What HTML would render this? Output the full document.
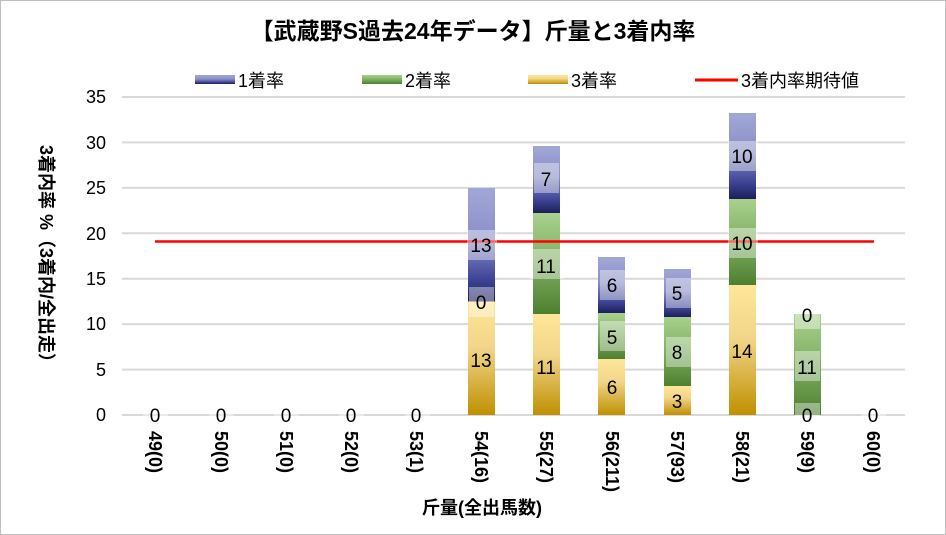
<!DOCTYPE html><html><head><meta charset="utf-8"><style>
body{margin:0;background:#fff}
svg{display:block;font-family:"Liberation Sans","Noto Sans CJK JP",sans-serif}
</style></head><body>
<svg width="946" height="535" viewBox="0 0 946 535">
<defs>
<linearGradient id="g1" x1="0" y1="0" x2="0" y2="1"><stop offset="0" stop-color="#a1a7d6"/><stop offset="0.45" stop-color="#8a90c6"/><stop offset="0.8" stop-color="#3f4596"/><stop offset="1" stop-color="#1c1f5c"/></linearGradient>
<linearGradient id="g2" x1="0" y1="0" x2="0" y2="1"><stop offset="0" stop-color="#a9d18e"/><stop offset="0.5" stop-color="#7fae62"/><stop offset="1" stop-color="#4e7f2f"/></linearGradient>
<linearGradient id="g3" x1="0" y1="0" x2="0" y2="1"><stop offset="0" stop-color="#ffe699"/><stop offset="0.4" stop-color="#f2d68a"/><stop offset="1" stop-color="#bf9000"/></linearGradient>
</defs>
<rect x="0.5" y="0.5" width="945" height="534" fill="#fff" stroke="#bfbfbf"/>
<text x="473" y="39" text-anchor="middle" font-size="23" font-weight="bold">【武蔵野S過去24年データ】斤量と3着内率</text>
<rect x="195" y="75" width="40" height="9" fill="url(#g1)"/><text x="238" y="87" font-size="18">1着率</text>
<rect x="362" y="75" width="40" height="9" fill="url(#g2)"/><text x="405" y="87" font-size="18">2着率</text>
<rect x="528" y="75" width="40" height="9" fill="url(#g3)"/><text x="571" y="87" font-size="18">3着率</text>
<line x1="695" y1="80" x2="738" y2="80" stroke="#f00" stroke-width="3"/><text x="741" y="87" font-size="18">3着内率期待値</text>
<g stroke="#d9d9d9" stroke-width="2">
<line x1="122" x2="905" y1="97" y2="97"/><line x1="122" x2="905" y1="142.4" y2="142.4"/><line x1="122" x2="905" y1="187.9" y2="187.9"/><line x1="122" x2="905" y1="233.3" y2="233.3"/><line x1="122" x2="905" y1="278.7" y2="278.7"/><line x1="122" x2="905" y1="324.1" y2="324.1"/><line x1="122" x2="905" y1="369.6" y2="369.6"/><line x1="122" x2="905" y1="415" y2="415"/>
</g>
<g font-size="18" text-anchor="end">
<text x="106" y="103">35</text><text x="106" y="149">30</text><text x="106" y="194">25</text><text x="106" y="240">20</text><text x="106" y="285">15</text><text x="106" y="330">10</text><text x="106" y="376">5</text><text x="106" y="421">0</text>
</g>
<text transform="translate(40,258) rotate(90)" text-anchor="middle" font-size="18" font-weight="bold">3着内率 %（3着内/全出走）</text>
<g>
<rect x="468" y="301.5" width="27" height="113.5" fill="url(#g3)"/>
<rect x="468" y="188" width="27" height="113.5" fill="url(#g1)"/>
<rect x="533" y="314" width="27" height="101" fill="url(#g3)"/>
<rect x="533" y="213" width="27" height="101" fill="url(#g2)"/>
<rect x="533" y="146" width="27" height="67" fill="url(#g1)"/>
<rect x="598" y="359" width="27" height="56" fill="url(#g3)"/>
<rect x="598" y="313" width="27" height="46" fill="url(#g2)"/>
<rect x="598" y="257" width="27" height="56" fill="url(#g1)"/>
<rect x="664" y="386" width="27" height="29" fill="url(#g3)"/>
<rect x="664" y="317" width="27" height="69" fill="url(#g2)"/>
<rect x="664" y="269" width="27" height="48" fill="url(#g1)"/>
<rect x="729" y="285" width="27" height="130" fill="url(#g3)"/>
<rect x="729" y="199" width="27" height="86" fill="url(#g2)"/>
<rect x="729" y="113" width="27" height="86" fill="url(#g1)"/>
<rect x="794" y="314" width="27" height="101" fill="url(#g2)"/>
</g>
<line x1="155" y1="241.5" x2="874" y2="241.5" stroke="#f00" stroke-width="2.5"/>
<g fill="#fff" fill-opacity="0.4">
<rect x="467" y="230" width="30" height="30"/><rect x="469" y="287" width="25" height="30"/>
<rect x="534" y="163" width="25" height="30"/><rect x="529" y="249" width="35" height="30"/>
<rect x="600" y="270" width="25" height="30"/><rect x="600" y="321" width="25" height="30"/>
<rect x="666" y="278" width="25" height="30"/><rect x="666" y="337" width="25" height="30"/>
<rect x="728" y="141" width="30" height="30"/><rect x="728" y="228" width="30" height="30"/>
<rect x="795" y="299" width="25" height="30"/><rect x="795" y="351" width="25" height="30"/><rect x="795" y="403" width="25" height="14"/>
<rect x="143" y="403" width="25" height="14"/><rect x="209" y="403" width="25" height="14"/><rect x="274" y="403" width="25" height="14"/><rect x="339" y="403" width="25" height="14"/><rect x="405" y="403" width="25" height="14"/><rect x="861" y="403" width="25" height="14"/>
</g>
<g font-size="19" text-anchor="middle">
<text x="481" y="252">13</text><text x="481" y="309">0</text><text x="481" y="367">13</text>
<text x="546" y="186">7</text><text x="546" y="273">11</text><text x="546" y="374">11</text>
<text x="612" y="292">6</text><text x="612" y="344">5</text><text x="612" y="394">6</text>
<text x="677" y="300">5</text><text x="677" y="359">8</text><text x="677" y="408">3</text>
<text x="742" y="163">10</text><text x="742" y="250">10</text><text x="742" y="358">14</text>
<text x="807" y="322">0</text><text x="807" y="374">11</text><text x="807" y="422">0</text>
<text x="155" y="422">0</text><text x="221" y="422">0</text><text x="286" y="422">0</text><text x="351" y="422">0</text><text x="416" y="422">0</text><text x="873" y="422">0</text>
</g>
<g font-size="18" font-weight="bold">
<text transform="translate(149,431) rotate(90)">49(0)</text>
<text transform="translate(215,431) rotate(90)">50(0)</text>
<text transform="translate(280,431) rotate(90)">51(0)</text>
<text transform="translate(345,431) rotate(90)">52(0)</text>
<text transform="translate(410,431) rotate(90)">53(1)</text>
<text transform="translate(475,431) rotate(90)">54(16)</text>
<text transform="translate(540,431) rotate(90)">55(27)</text>
<text transform="translate(606,431) rotate(90)">56(211)</text>
<text transform="translate(671,431) rotate(90)">57(93)</text>
<text transform="translate(736,431) rotate(90)">58(21)</text>
<text transform="translate(801,431) rotate(90)">59(9)</text>
<text transform="translate(867,431) rotate(90)">60(0)</text>
</g>
<text x="482" y="514" text-anchor="middle" font-size="18" font-weight="bold">斤量(全出馬数)</text>
</svg>
</body></html>
